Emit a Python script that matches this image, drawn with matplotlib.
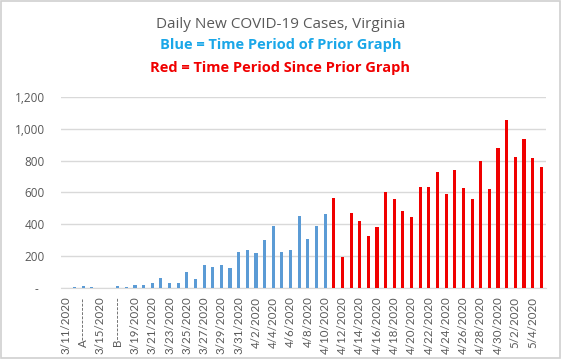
import matplotlib.pyplot as plt
from matplotlib.patches import Rectangle
import numpy as np

# daily new cases, 3/11/2020 - 4/10/2020 (prior graph)
blue_cases = [0, 5, 12, 9, 0, 0, 13, 7, 20, 20, 32, 65, 32, 36, 100, 60,
              148, 134, 148, 130, 227, 237, 219, 303, 392, 228, 242, 453,
              309, 392, 465]
# daily new cases, 4/11/2020 - 5/5/2020 (since prior graph)
red_cases = [566, 198, 469, 419, 327, 385, 600, 562, 481, 448, 635, 633,
             729, 592, 740, 631, 560, 800, 619, 879, 1052, 823, 935, 815, 760]

# every other category is labelled
tick_labels = ['3/11/2020', 'A' + '-' * 10, '3/15/2020', 'B' + '-' * 10,
               '3/19/2020', '3/21/2020', '3/23/2020', '3/25/2020',
               '3/27/2020', '3/29/2020', '3/31/2020', '4/2/2020',
               '4/4/2020', '4/6/2020', '4/8/2020', '4/10/2020',
               '4/12/2020', '4/14/2020', '4/16/2020', '4/18/2020',
               '4/20/2020', '4/22/2020', '4/24/2020', '4/26/2020',
               '4/28/2020', '4/30/2020', '5/2/2020', '5/4/2020']
y_ticks = [0, 200, 400, 600, 800, 1000, 1200]
y_labels = ['-  ', '200', '400', '600', '800', '1,000', '1,200']

BLUE = '#5B9BD5'
RED = '#F00000'
GRAY = '#595959'

plt.rcParams['font.family'] = ['Open Sans', 'DejaVu Sans']

fig = plt.figure(figsize=(5.61, 3.59), dpi=100)
fig.patches.append(Rectangle((0.002, 0.003), 0.996, 0.994, transform=fig.transFigure,
                             fill=False, edgecolor='#D0D0D0', linewidth=1.2))
ax = fig.add_axes([0.1096, 0.197, 0.8629, 0.5337])

n_blue = len(blue_cases)
x_blue = np.arange(n_blue)
x_red = np.arange(n_blue, n_blue + len(red_cases))
ax.bar(x_blue, blue_cases, width=0.36, color=BLUE, zorder=3)
ax.bar(x_red, red_cases, width=0.36, color=RED, zorder=3)

ax.set_xlim(-0.5, n_blue + len(red_cases) - 0.5)
ax.set_ylim(0, 1200)
ax.set_yticks(y_ticks)
ax.set_yticklabels(y_labels)
ax.set_xticks(np.arange(0, n_blue + len(red_cases), 2))
ax.set_xticklabels(tick_labels, rotation=90, family=['Lato', 'DejaVu Sans'],
                   fontsize=8.3)
ax.tick_params(axis='both', length=0, colors=GRAY)
ax.tick_params(axis='y', pad=12, labelsize=8.5)
ax.tick_params(axis='x', pad=6)

ax.grid(axis='y', color='#D9D9D9', linewidth=1, zorder=0)
for s in ['top', 'right', 'left']:
    ax.spines[s].set_visible(False)
ax.spines['bottom'].set_color('#D9D9D9')

fig.text(0.5, 1 - 24 / 359, 'Daily New COVID-19 Cases, Virginia', ha='center',
         va='center', color=GRAY, fontsize=11)
fig.text(0.5, 1 - 45 / 359, 'Blue = Time Period of Prior Graph', ha='center',
         va='center', color='#1AA7E8', fontsize=10.5, fontweight='bold')
fig.text(0.5, 1 - 68 / 359, 'Red = Time Period Since Prior Graph', ha='center',
         va='center', color='#F00000', fontsize=10.5, fontweight='bold')

fig.savefig('out.png', dpi=100, facecolor='white')
